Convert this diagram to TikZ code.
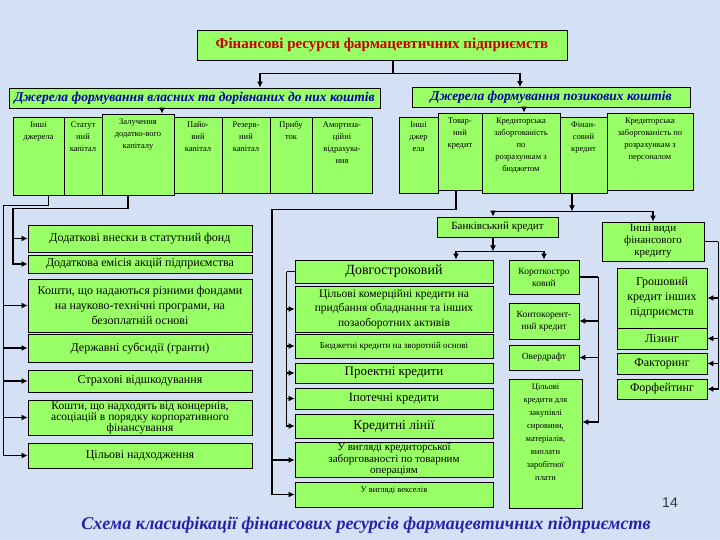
\documentclass[tikz,border=0pt]{standalone}
\usepackage{fontspec}
\setmainfont{Liberation Serif}
\setsansfont{Liberation Sans}
\usetikzlibrary{arrows.meta,calc}
\definecolor{boxgreen}{RGB}{153,255,102}
\definecolor{paper}{RGB}{212,224,244}
\definecolor{titlered}{RGB}{204,0,0}
\definecolor{headblue}{RGB}{0,0,170}
\definecolor{capblue}{RGB}{36,36,168}
\begin{document}
\begin{tikzpicture}[x=1pt,y=-1pt,
    box/.style={draw,line width=0.8pt,fill=boxgreen,inner sep=1pt,align=center},
    ownbox/.style={box,minimum width=224pt,font=\fontsize{12}{14}\selectfont},
    longbox/.style={box,minimum width=198pt},
    shortbox/.style={box,minimum width=70pt,font=\fontsize{9.5}{12}\selectfont},
    otherbox/.style={box,minimum width=90pt,font=\fontsize{12}{15}\selectfont},
    headbox/.style={box,minimum height=20pt,text=headblue,font=\fontsize{13.5}{15}\selectfont\bfseries\itshape},
    toptext/.style={anchor=north,align=center,inner sep=2pt,yshift=-3pt,font=\fontsize{8.5}{12}\selectfont},
    conn/.style={line width=1.1pt},
    arrow/.style={conn,-{Latex[length=6pt,width=6pt]}}]
\fill[paper] (0,0) rectangle (720,540);
%% headings
\node[box,minimum width=370pt,minimum height=30pt,text=titlered,font=\fontsize{15}{17}\selectfont\bfseries] (title) at (382,45) {Фінансові ресурси фармацевтичних підприємств};
\node[headbox,minimum width=371pt] (leftHead) at (194.5,98) {Джерела формування власних та дорівнаних до них коштів};
\node[headbox,minimum width=278pt] (rightHead) at (551,97.5) {Джерела формування позикових коштів};
%% own sources
\node[box,minimum width=51pt,minimum height=78pt,label={[toptext]above:Інші\\джерела}] (l1) at (38.5,156) {};
\node[box,minimum width=38pt,minimum height=78pt,label={[toptext]above:Статут\\ний\\капітал}] (l2) at (83,156) {};
\node[box,minimum width=72pt,minimum height=81pt,label={[toptext]above:Залучення\\додатко-вого\\капіталу}] (l3) at (138,154.5) {};
\node[box,minimum width=48pt,minimum height=76pt,label={[toptext]above:Пайо-\\вий\\капітал}] (l4) at (198,155) {};
\node[box,minimum width=48pt,minimum height=76pt,label={[toptext]above:Резерв-\\ний\\капітал}] (l5) at (246,155) {};
\node[box,minimum width=42pt,minimum height=76pt,label={[toptext]above:Прибу\\ток}] (l6) at (291,155) {};
\node[box,minimum width=60pt,minimum height=76pt,label={[toptext]above:Амортиза-\\ційні\\відрахува-\\ння}] (l7) at (342,155) {};
%% borrowed sources
\node[box,minimum width=39pt,minimum height=76pt,label={[toptext]above:Інші\\джер\\ела}] (r1) at (418.5,155) {};
\node[box,minimum width=44pt,minimum height=77pt,label={[toptext]above:Товар-\\ний\\кредит}] (r2) at (460,151.5) {};
\node[box,minimum width=78pt,minimum height=80pt,label={[toptext]above:Кредиторська\\заборгованість\\по\\розрахункам з\\бюджетом}] (r3) at (521,153) {};
\node[box,minimum width=47pt,minimum height=76pt,label={[toptext]above:Фінан-\\совий\\кредит}] (r4) at (583.5,155) {};
\node[box,minimum width=86pt,minimum height=77pt,label={[toptext]above:Кредиторська\\заборгованість по\\розрахункам з\\персоналом}] (r5) at (650,151.5) {};
%% left column
\node[ownbox,minimum height=27pt] (c1) at (140,238.5) {Додаткові внески в статутний фонд};
\node[ownbox,minimum height=18pt] (c2) at (140,264) {Додаткова емісія акцій підприємства};
\node[ownbox,minimum height=53pt,font=\fontsize{12}{15}\selectfont] (c3) at (140,305.5) {Кошти, що надаються різними фондами\\на науково-технічні програми, на\\безоплатній основі};
\node[ownbox,minimum height=28pt] (c4) at (140,348) {Державні субсидії (гранти)};
\node[ownbox,minimum height=22pt] (c5) at (140,381) {Страхові відшкодування};
\node[ownbox,minimum height=35pt,font=\fontsize{11.5}{11}\selectfont] (c6) at (140,417.5) {Кошти, що надходять від концернів,\\асоціацій в порядку корпоративного\\фінансування};
\node[ownbox,minimum height=25pt] (c7) at (140,455.5) {Цільові надходження};
%% bank credit
\node[box,minimum width=121pt,minimum height=20pt,font=\fontsize{11}{13}\selectfont] (bank) at (497.5,227) {Банківський кредит};
\node[box,minimum width=102pt,minimum height=39pt,font=\fontsize{11}{12}\selectfont] (other) at (653,241.5) {Інші види\\фінансового\\кредиту};
\node[longbox,minimum height=23pt,font=\fontsize{14}{16}\selectfont] (long) at (394,271.5) {Довгостроковий};
\node[longbox,minimum height=46pt,font=\fontsize{11.5}{14.5}\selectfont] (m1) at (394,309) {Цільові комерційні кредити на\\придбання обладнання та інших\\позаоборотних активів};
\node[longbox,minimum height=24pt,font=\fontsize{9}{11}\selectfont] (m2) at (394,346) {Бюджетні кредити на зворотній основі};
\node[longbox,minimum height=20pt,font=\fontsize{13}{15}\selectfont] (m3) at (394,373) {Проектні кредити};
\node[longbox,minimum height=21pt,font=\fontsize{12.5}{15}\selectfont] (m4) at (394,398.5) {Іпотечні кредити};
\node[longbox,minimum height=24pt,font=\fontsize{13.5}{15}\selectfont] (m5) at (394,426) {Кредитні лінії};
\node[longbox,minimum height=34pt,font=\fontsize{11}{11.5}\selectfont] (g1) at (394,460) {У вигляді кредиторської\\заборгованості по товарним\\операціям};
\node[longbox,minimum height=25pt,label={[toptext,font=\fontsize{8.5}{10}\selectfont]above:У вигляді векселів}] (g2) at (394,494.5) {};
\node[shortbox,minimum height=34pt] (short) at (544,277) {Короткостро\\ковий};
\node[shortbox,minimum height=36pt] (s1) at (544,321) {Контокорент-\\ний кредит};
\node[shortbox,minimum height=25pt] (s2) at (544,357.5) {Овердрафт};
\node[box,minimum width=73pt,minimum height=129pt,label={[toptext,font=\fontsize{8.5}{13}\selectfont]above:{Цільові\\кредити для\\закупівлі\\сировини,\\матеріалів,\\виплати\\заробітної\\плати}}] (s3) at (545.5,443.5) {};
\node[otherbox,minimum height=60pt] (o1) at (662,298) {Грошовий\\кредит інших\\підприємств};
\node[otherbox,minimum height=21pt] (o2) at (662,338.5) {Лізинг};
\node[otherbox,minimum height=21pt] (o3) at (662,363.5) {Факторинг};
\node[otherbox,minimum height=20pt] (o4) at (662,389) {Форфейтинг};
%% caption
\node[text=capblue,font=\fontsize{18}{20}\selectfont\bfseries\itshape] (caption) at (366,525) {Схема класифікації фінансових ресурсів фармацевтичних підприємств};
\node[text=black!80,font=\sffamily\fontsize{14}{16}\selectfont] (pageNo) at (670,503) {14};
%% connectors
\draw[conn] ([xshift=11pt]title.south) -- ++(0,13) coordinate (topFork);
\draw[arrow] (topFork) -| ([xshift=65.5pt]leftHead.north);
\draw[arrow] (topFork) -| ([xshift=-31pt]rightHead.north);
\draw[arrow] ([xshift=24pt,yshift=6pt]l3.north) -- ([xshift=24pt]l3.north);
\draw[arrow] ([xshift=3pt,yshift=6pt]r3.north) -- ([xshift=3pt]r3.north);
\draw[conn] ([xshift=10pt]l1.south) |- ++(-45,10) coordinate (ownOuter);
\foreach \n in {c3,c4,c5,c6,c7}
    \draw[arrow] (ownOuter) |- (\n.west);
\draw[conn] ([xshift=-10pt]l3.south) |- ++(-115,13) coordinate (ownInner);
\foreach \n in {c1,c2}
    \draw[arrow] (ownInner) |- (\n.west);
\draw[conn] ([xshift=-4pt]r2.south) |- ++(-184,19) coordinate (goodsFork);
\foreach \n in {g1,g2}
    \draw[arrow] (goodsFork) |- (\n.west);
\draw[arrow] ([xshift=-11.5pt]r4.south) -- ++(0,18) coordinate (finFork);
\draw[arrow] (finFork) -| ([xshift=-4.5pt]bank.north);
\draw[arrow] (finFork) -| (other.north);
\draw[arrow] ([xshift=-4.5pt]bank.south) -- ++(0,14) coordinate (bankFork);
\draw[arrow] (bankFork) -| ([xshift=62pt]long.north);
\draw[arrow] (bankFork) -| (short.north);
\draw[conn] (long.west) -- ++(-8,0) coordinate (longFork);
\foreach \n in {m1,m2,m3,m4,m5}
    \draw[arrow] (longFork) |- (\n.west);
\draw[conn] (short.east) -- ++(19,0) coordinate (shortFork);
\foreach \n in {s1,s2}
    \draw[arrow] (shortFork) |- (\n.east);
\draw[arrow] (shortFork) |- ([yshift=21.5pt]s3.east);
\draw[conn] (other.east) -- ++(14,0) coordinate (otherFork);
\foreach \n in {o1,o2,o3,o4}
    \draw[arrow] (otherFork) |- (\n.east);
\end{tikzpicture}
\end{document}
